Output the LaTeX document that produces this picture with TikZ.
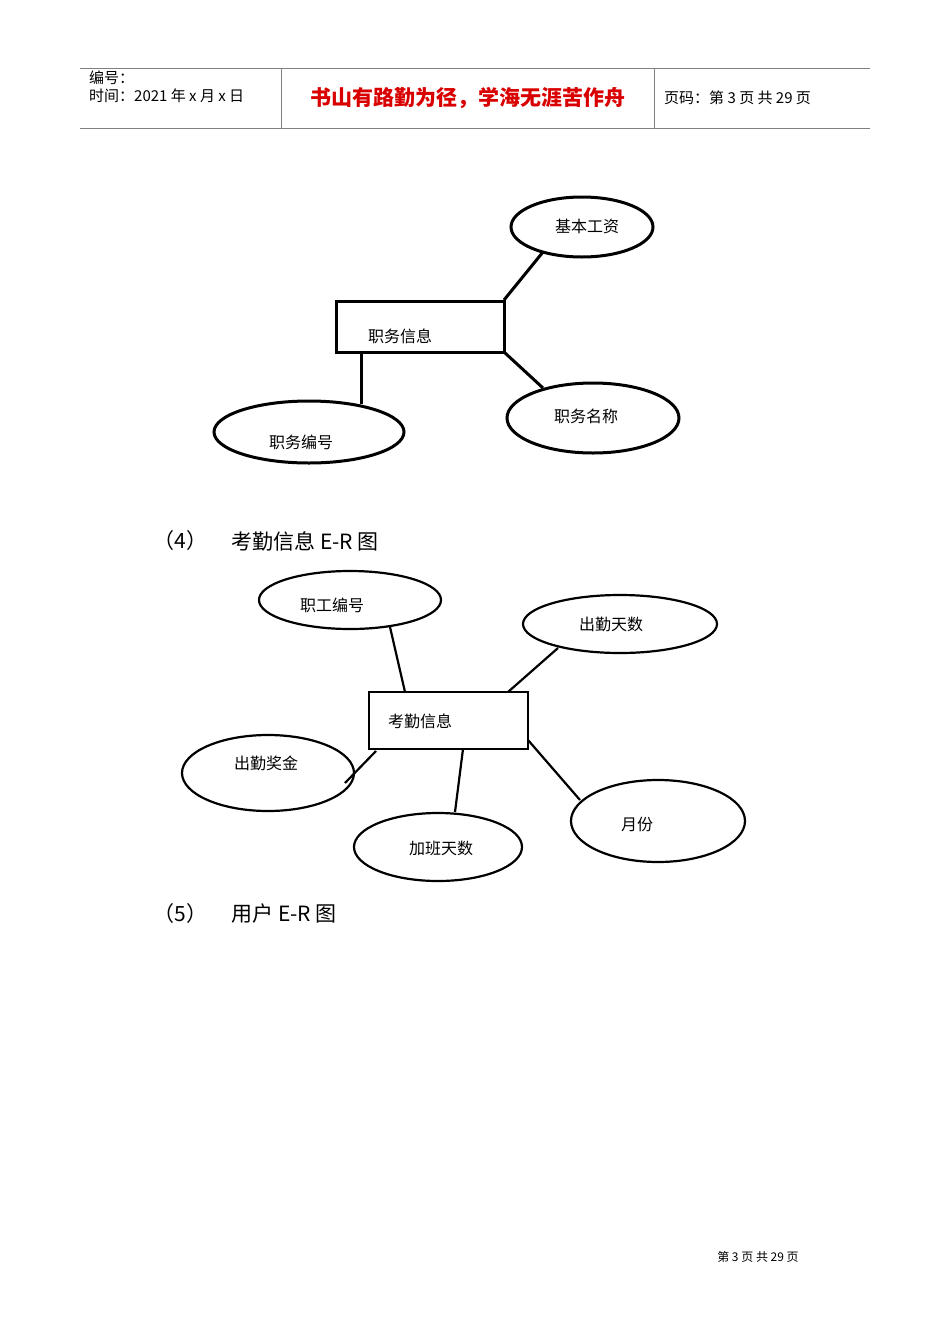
\documentclass[tikz,border=0pt]{standalone}
\usepackage{fontspec}
\usetikzlibrary{shapes.geometric}
\setmainfont{Noto Sans CJK SC}
\begin{document}
\begin{tikzpicture}[x=1pt,y=-1pt,
  ent/.style={draw,line width=3pt},
  att/.style={draw,ellipse,line width=3pt,inner sep=0pt},
  lnk/.style={line width=3pt},
  lbl/.style={font=\fontsize{16}{16}\selectfont},
  hd/.style={font=\fontsize{15}{15}\selectfont,anchor=west,inner sep=0pt}]
\useasboundingbox (0,0) rectangle (950,1344);
% header
\draw[line width=0.8pt,gray] (80,68) -- (870,68) (80,128) -- (870,128) (281,68) -- (281,128) (654,68) -- (654,128);
\node[hd] (h1) at (89,78) {编号：};
\node[hd] (h2) at (89,96) {时间：2021 年 x 月 x 日};
\node[font=\fontsize{21}{21}\selectfont\bfseries,text=red!85!black,inner sep=0pt] (h3) at (468,98) {书山有路勤为径，学海无涯苦作舟};
\node[hd] (h4) at (664,98) {页码：第 3 页 共 29 页};
% diagram 1
\draw[ent] (336,301) rectangle (504,352);
\node[lbl] (e1) at (400,336) {职务信息};
\node[att,minimum width=142,minimum height=60] (a1) at (582,227) {};
\node[lbl] (a1t) at (587,226) {基本工资};
\node[att,minimum width=172,minimum height=70] (a2) at (593,418) {};
\node[lbl] (a2t) at (586,416) {职务名称};
\node[att,minimum width=190,minimum height=62] (a3) at (309,432) {};
\node[lbl] (a3t) at (301,442) {职务编号};
\draw[lnk] (504,300) -- (543,252);
\draw[lnk] (504,352) -- (543,388);
\draw[lnk] (361,352) -- (361,404);
% section 4
\node[font=\fontsize{21}{21}\selectfont,anchor=west] (s4) at (150,541) {（4）};
\node[font=\fontsize{21}{21}\selectfont,anchor=west] (t4) at (228,541) {考勤信息 E-R 图};
% diagram 2
\draw[line width=2.5pt] (369,692) rectangle (528,749);
\node[lbl] (e2) at (420,721) {考勤信息};
\node[att,line width=2.2pt,minimum width=182,minimum height=58] (b1) at (350,600) {};
\node[lbl] (b1t) at (332,605) {职工编号};
\node[att,line width=2.2pt,minimum width=194,minimum height=58] (b2) at (620,624) {};
\node[lbl] (b2t) at (611,624) {出勤天数};
\node[att,line width=2.2pt,minimum width=172,minimum height=76] (b3) at (268,773) {};
\node[lbl] (b3t) at (266,763) {出勤奖金};
\node[att,line width=2.2pt,minimum width=168,minimum height=68] (b4) at (438,847) {};
\node[lbl] (b4t) at (441,848) {加班天数};
\node[att,line width=2.2pt,minimum width=174,minimum height=82] (b5) at (658,821) {};
\node[lbl] (b5t) at (637,824) {月份};
\draw[line width=2.2pt] (390,627) -- (405,692);
\draw[line width=2.2pt] (558,648) -- (508,692);
\draw[line width=2.2pt] (376,751) -- (345,783);
\draw[line width=2.2pt] (463,749) -- (455,812);
\draw[line width=2.2pt] (528,740) -- (580,800);
% section 5
\node[font=\fontsize{21}{21}\selectfont,anchor=west] (s5) at (150,914) {（5）};
\node[font=\fontsize{21}{21}\selectfont,anchor=west] (t5) at (228,914) {用户 E-R 图};
% footer
\node[font=\fontsize{12}{12}\selectfont] (f) at (758,1257) {第 3 页 共 29 页};
\end{tikzpicture}
\end{document}
